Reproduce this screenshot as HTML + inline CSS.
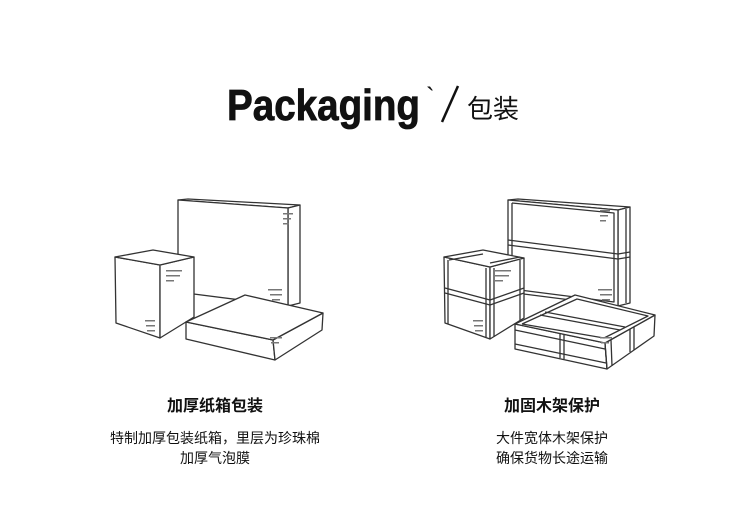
<!DOCTYPE html>
<html><head><meta charset="utf-8"><style>
html,body{margin:0;padding:0;background:#fff;}
svg{display:block;}
</style></head><body>
<svg width="750" height="529" viewBox="0 0 750 529" xmlns="http://www.w3.org/2000/svg">
<text x="227" y="120" font-family="Liberation Sans, sans-serif" font-weight="bold" font-size="44" textLength="193" lengthAdjust="spacingAndGlyphs" fill="#111" stroke="#111" stroke-width="0.8">Packaging</text>
<text x="426" y="106" font-family="Liberation Sans, sans-serif" font-size="26" fill="#111">`</text>
<line x1="458" y1="86" x2="442" y2="122" stroke="#111" stroke-width="2.5"/>
<text x="467" y="118" font-family="Liberation Sans, Noto Sans CJK SC, sans-serif" font-size="26" fill="#111">包装</text>

<g fill="#fff" stroke="#333" stroke-width="1.3" stroke-linejoin="round">
  <polygon points="178,200 188,199 300,205 288,208"/>
  <polygon points="288,208 300,205 300,303 288,306"/>
  <polygon points="178,200 288,208 288,306 178,292"/>
  <polygon points="115,257 160,265 160,338 116,323"/>
  <polygon points="160,265 194,257 194,317 160,338"/>
  <polygon points="115,257 153,250 194,257 160,265"/>
  <polygon points="186,322 273,340 275,360 186,339"/>
  <polygon points="273,340 323,313 322,330 275,360"/>
  <polygon points="186,322 245,295 323,313 273,340"/>
  <g fill="#777" stroke="none">
    <rect x="283" y="213" width="10" height="1.5"/><rect x="283" y="218" width="8" height="1.5"/><rect x="283" y="223" width="6" height="1.5"/>
    <rect x="268" y="289" width="14" height="1.5"/><rect x="270" y="294" width="12" height="1.5"/><rect x="272" y="299" width="8" height="1.5"/>
    <rect x="166" y="270" width="16" height="1.5"/><rect x="166" y="275" width="14" height="1.5"/><rect x="166" y="280" width="8" height="1.5"/>
    <rect x="145" y="320" width="10" height="1.5"/><rect x="146" y="325" width="9" height="1.5"/><rect x="147" y="330" width="8" height="1.5"/>
    <rect x="270" y="337" width="12" height="1.5"/><rect x="271" y="342" width="8" height="1.5"/>
  </g>
</g>

<g fill="#fff" stroke="#333" stroke-width="1.3" stroke-linejoin="round">
  <polygon points="508,200 518,199 630,207 618,210"/>
  <polygon points="618,210 630,207 630,303 618,306"/>
  <polygon points="508,200 618,210 618,306 508,292"/>
  <polyline fill="none" points="512,203 614,213 614,302 512,289 512,203"/>
  <line x1="508" y1="240" x2="618" y2="254"/><line x1="508" y1="245" x2="618" y2="259"/>
  <line x1="618" y1="254" x2="630" y2="252"/><line x1="618" y1="259" x2="630" y2="257"/>
  <line x1="626" y1="209" x2="626" y2="303"/>
  <polygon points="444,257 490,267 490,339 445,323"/>
  <polygon points="490,267 524,258 524,318 490,339"/>
  <polygon points="444,257 483,250 524,258 490,267"/>
  <line x1="448" y1="260" x2="448" y2="324"/><line x1="486" y1="268" x2="486" y2="337"/><line x1="494" y1="268" x2="494" y2="337"/><line x1="520" y1="260" x2="520" y2="320"/>
  <line x1="445" y1="288" x2="490" y2="300"/><line x1="445" y1="293" x2="490" y2="305"/>
  <line x1="490" y1="300" x2="524" y2="288"/><line x1="490" y1="305" x2="524" y2="293"/>
  <line x1="449" y1="260" x2="483" y2="254"/><line x1="490" y1="263" x2="520" y2="257"/>
  <polygon points="515,324 605,343 607,369 515,349"/>
  <polygon points="605,343 655,315 654,336 607,369"/>
  <polygon points="515,324 575,295 655,315 605,343"/>
  <polyline fill="none" points="522,324 577,299 648,316 604,338 522,324"/>
  <line x1="540" y1="315" x2="620" y2="330"/><line x1="545" y1="312" x2="625" y2="327"/>
  <line x1="515" y1="330" x2="605" y2="349"/><line x1="515" y1="344" x2="606" y2="363"/>
  <line x1="560" y1="334" x2="560" y2="358"/><line x1="564" y1="335" x2="564" y2="359"/>
  <line x1="605" y1="343" x2="607" y2="369"/><line x1="611" y1="340" x2="612" y2="366"/>
  <line x1="630" y1="329" x2="630" y2="352"/><line x1="634" y1="327" x2="634" y2="350"/>
  <g fill="#777" stroke="none">
    <rect x="600" y="210" width="10" height="1.5"/><rect x="600" y="215" width="8" height="1.5"/><rect x="600" y="220" width="6" height="1.5"/>
    <rect x="598" y="289" width="14" height="1.5"/><rect x="600" y="294" width="12" height="1.5"/><rect x="602" y="299" width="8" height="1.5"/>
    <rect x="495" y="270" width="16" height="1.5"/><rect x="495" y="275" width="14" height="1.5"/><rect x="495" y="280" width="8" height="1.5"/>
    <rect x="473" y="320" width="10" height="1.5"/><rect x="474" y="325" width="9" height="1.5"/><rect x="475" y="330" width="8" height="1.5"/>
    <rect x="600" y="337" width="12" height="1.5"/><rect x="601" y="342" width="8" height="1.5"/>
  </g>
</g>

<g font-family="Liberation Sans, Noto Sans CJK SC, sans-serif" fill="#111" text-anchor="middle">
  <text x="215" y="411" font-size="16" font-weight="bold">加厚纸箱包装</text>
  <text x="215" y="443" font-size="14">特制加厚包装纸箱，里层为珍珠棉</text>
  <text x="215" y="463" font-size="14">加厚气泡膜</text>
  <text x="552" y="411" font-size="16" font-weight="bold">加固木架保护</text>
  <text x="552" y="443" font-size="14">大件宽体木架保护</text>
  <text x="552" y="463" font-size="14">确保货物长途运输</text>
</g>
</svg>
</body></html>
